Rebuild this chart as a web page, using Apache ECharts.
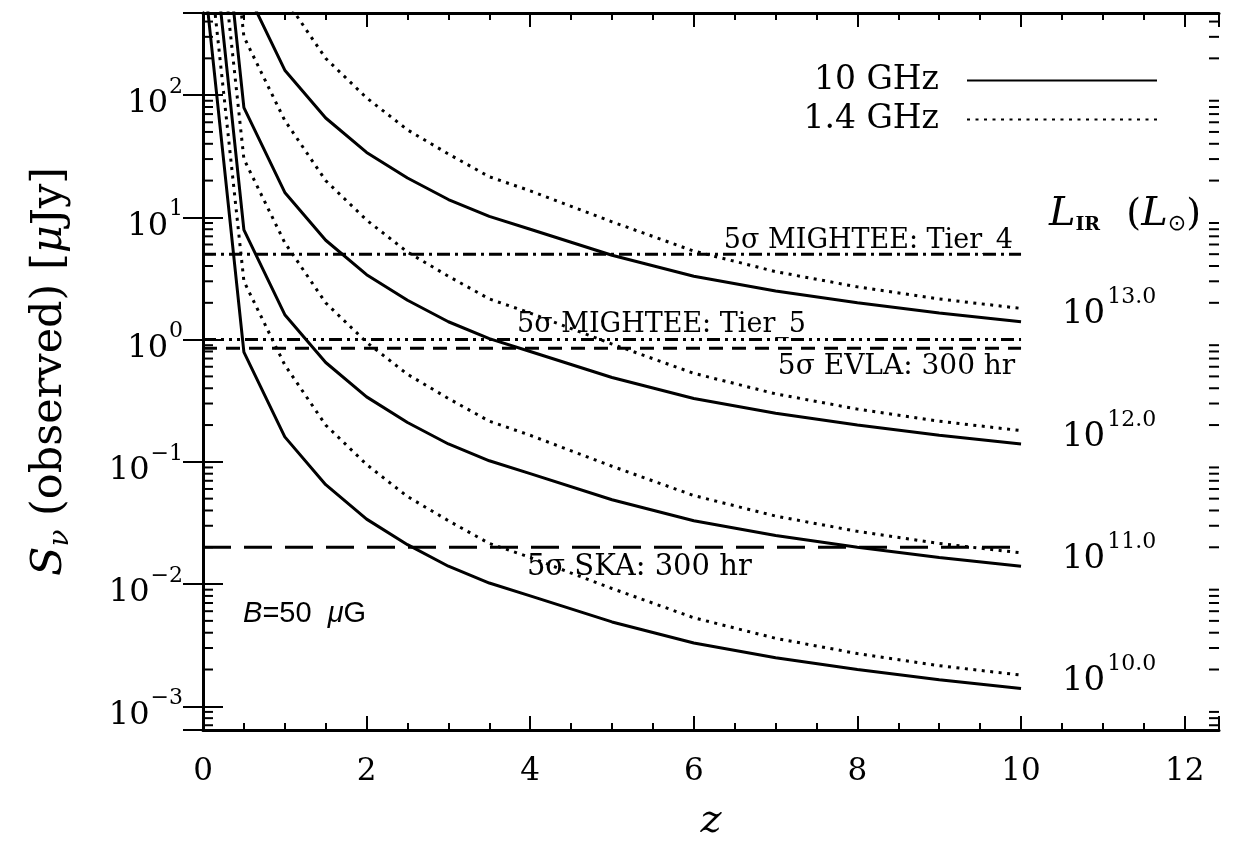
<!DOCTYPE html>
<html><head><meta charset="utf-8">
<script src="https://cdn.jsdelivr.net/npm/echarts@6/dist/echarts.min.js"></script>
<style>html,body{margin:0;padding:0;background:#fff}#c{width:1234px;height:852px}</style>
</head><body><div id="c"></div>
<script>
// ---- data ----
const zGrid = [0.05, 0.5, 1, 1.5, 2, 2.5, 3, 3.5, 4, 5, 6, 7, 8, 9, 10];
// 10 GHz (solid), flux in microJy
const s10_L13 = [5.6e5, 790, 160, 65, 34, 21, 14, 10.2, 8.0, 4.9, 3.3, 2.5, 2.0, 1.65, 1.4];
const s10_L12 = [5.6e4, 79, 16, 6.5, 3.4, 2.1, 1.4, 1.02, 0.80, 0.49, 0.33, 0.25, 0.20, 0.165, 0.14];
const s10_L11 = [5.6e3, 7.9, 1.6, 0.65, 0.34, 0.21, 0.14, 0.102, 0.080, 0.049, 0.033, 0.025, 0.020, 0.0165, 0.014];
const s10_L10 = [560, 0.79, 0.16, 0.065, 0.034, 0.021, 0.014, 0.0102, 0.0080, 0.0049, 0.0033, 0.0025, 0.0020, 0.00165, 0.0014];
// 1.4 GHz (dotted)
const s14_L13 = [1.9e6, 3000, 620, 200, 95, 52, 33, 21.5, 16.5, 9.2, 5.3, 3.6, 2.7, 2.15, 1.8];
const s14_L12 = [1.9e5, 300, 62, 20, 9.5, 5.2, 3.3, 2.15, 1.65, 0.92, 0.53, 0.36, 0.27, 0.215, 0.18];
const s14_L11 = [1.9e4, 30, 6.2, 2.0, 0.95, 0.52, 0.33, 0.215, 0.165, 0.092, 0.053, 0.036, 0.027, 0.0215, 0.018];
const s14_L10 = [1.9e3, 3.0, 0.62, 0.20, 0.095, 0.052, 0.033, 0.0215, 0.0165, 0.0092, 0.0053, 0.0036, 0.0027, 0.00215, 0.0018];
// 5-sigma detection limits (microJy)
const limitNames = ['5σ MIGHTEE: Tier_4', '5σ MIGHTEE: Tier_5', '5σ EVLA: 300 hr', '5σ SKA: 300 hr'];
const limitValues = [5.0, 1.0, 0.85, 0.02];
const limitZRange = [0, 10];
// luminosity labels
const lumLabels = ['13.0', '12.0', '11.0', '10.0'];
const lumLabelFlux = [1.6, 0.16, 0.016, 0.0016];
// axis ticks
const xTickLabels = [0, 2, 4, 6, 8, 10, 12];
const minorMantissas = [2, 3, 4, 5, 6, 7, 8, 9];
const minorDecades = [-4, -3, -2, -1, 0, 1, 2];

// ---- layout ----
const X_MIN = 0, X_MAX = 12.42, Y_MIN = 6.4e-4, Y_MAX = 470;
const SERIF = 'DejaVu Serif';
const BLACK = '#000';
const CLEAR = 'rgba(0,0,0,0)';

const yMinor = [];
minorDecades.forEach(d => minorMantissas.forEach(m => {
  const v = m * Math.pow(10, d);
  if (v > Y_MIN && v < Y_MAX) yMinor.push([X_MIN, v]);
}));

function curve(arr) { return zGrid.map((z, i) => [z, arr[i]]); }
function solidSeries(arr) {
  return { name: '10 GHz', type: 'line', data: curve(arr), symbol: 'none', silent: true, clip: true,
    itemStyle: { color: CLEAR }, lineStyle: { color: BLACK, width: 3, type: 'solid' }, z: 3 };
}
function dottedSeries(arr) {
  return { name: '1.4 GHz', type: 'line', data: curve(arr), symbol: 'none', silent: true, clip: true,
    itemStyle: { color: CLEAR }, lineStyle: { color: BLACK, width: 3, type: [3, 5.5] }, z: 3 };
}
const limitDash = [[13, 5, 3, 5], [13, 5, 3, 5, 3, 5, 3, 5], [14, 9], [28, 13]];
function limitSeries(i) {
  return { name: 'lim' + i, type: 'line', symbol: 'none', silent: true,
    data: [[limitZRange[0], limitValues[i]], [limitZRange[1], limitValues[i]]],
    lineStyle: { color: BLACK, width: 3, type: limitDash[i] }, z: 2 };
}

function ann(value, text, align, extra) {
  return { value: value, label: Object.assign({ show: true, formatter: text, position: [0, 0], align: align,
    verticalAlign: 'middle', color: BLACK, opacity: 1, fontFamily: SERIF, fontSize: 26 }, extra || {}) };
}
const annData = [
  ann([9.9, 6.4], limitNames[0], 'right', { fontSize: 27 }),
  ann([3.84, 1.31], limitNames[1], 'left', { fontSize: 27 }),
  ann([9.93, 0.6], limitNames[2], 'right', { fontSize: 28 }),
  ann([3.96, 0.0137], limitNames[3], 'left', { fontSize: 29 }),
  ann([0.49, 0.0057], '{i|B}=50  {i|μ}G', 'left', { fontFamily: 'Liberation Sans', fontSize: 29,
    rich: { i: { fontFamily: 'Liberation Sans', fontSize: 29, fontStyle: 'italic', color: BLACK } } }),
  ann([12.2, 10.5], '{L|L}{sub|IR}  ({L|L}{sunsub|⊙})', 'right', { fontSize: 38,
    rich: { L: { fontFamily: SERIF, fontStyle: 'italic', fontSize: 40, color: BLACK },
            sub: { fontFamily: SERIF, fontWeight: 'bold', fontSize: 19, padding: [20, 2, 0, 0], color: BLACK },
            sunsub: { fontFamily: 'DejaVu Sans', fontSize: 22, padding: [20, 0, 0, 0], color: BLACK } } })
];
lumLabels.forEach((t, i) => annData.push(ann([10.5, lumLabelFlux[i]], '{b|10}{sup|' + t + '}', 'left', {
  fontSize: 33, rich: { b: { fontFamily: SERIF, fontSize: 34, color: BLACK },
                        sup: { fontFamily: SERIF, fontSize: 22, padding: [0, 0, 34, 2], color: BLACK } } })));

const tickStyle = { color: BLACK, width: 2 };
function xAx(pos, labels) {
  return { type: 'value', min: X_MIN, max: X_MAX, interval: 2, position: pos,
    axisLine: { show: true, onZero: false, lineStyle: { color: BLACK, width: 3 } },
    axisTick: { show: true, inside: true, length: 14, lineStyle: tickStyle },
    minorTick: { show: true, splitNumber: 4, length: 7, lineStyle: tickStyle },
    splitLine: { show: false }, minorSplitLine: { show: false },
    axisLabel: { show: labels, margin: 26, fontSize: 31, fontFamily: SERIF, color: BLACK,
      formatter: v => (xTickLabels.some(t => Math.abs(t - v) < 1e-9) ? String(Math.round(v)) : '') },
    name: labels ? 'z' : '', nameLocation: 'middle', nameGap: 72,
    nameTextStyle: { fontSize: 40, fontStyle: 'italic', fontFamily: SERIF, color: BLACK } };
}
function yAx(pos, labels) {
  return { type: 'log', logBase: 10, min: Y_MIN, max: Y_MAX, position: pos,
    axisLine: { show: true, lineStyle: { color: BLACK, width: 3 } },
    axisTick: { show: true, inside: true, length: 20, lineStyle: tickStyle },
    splitLine: { show: false },
    axisLabel: { show: labels, margin: 20, fontSize: 31, fontFamily: SERIF, color: BLACK,
      formatter: v => {
        const e = Math.log10(v), r = Math.round(e);
        if (Math.abs(e - r) > 1e-6) return '';
        return '{b|10}{sup|' + (r < 0 ? '−' + (-r) : r) + '}';
      },
      rich: { b: { fontFamily: SERIF, fontSize: 32, padding: [18, 0, 0, 0], color: BLACK },
              sup: { fontFamily: SERIF, fontSize: 22, padding: [0, 0, 16, 1], color: BLACK } } },
    name: labels ? '{i|S}{sub|ν} (observed) [{i|μ}Jy]' : '', nameLocation: 'middle', nameRotate: 90, nameGap: 128,
    nameTextStyle: { fontSize: 43, fontFamily: SERIF, color: BLACK,
      rich: { i: { fontSize: 43, fontFamily: SERIF, fontStyle: 'italic', color: BLACK },
              sub: { fontSize: 28, fontFamily: SERIF, fontStyle: 'italic', padding: [22, 0, 0, 0], color: BLACK } } } };
}

const chart = echarts.init(document.getElementById('c'), null, { renderer: 'canvas' });
chart.setOption({
  animation: false,
  backgroundColor: '#fff',
  grid: { left: 203, right: 15, top: 13, bottom: 122, containLabel: false },
  xAxis: [xAx('bottom', true), xAx('top', false)],
  yAxis: [yAx('left', true), yAx('right', false)],
  legend: {
    data: ['10 GHz', '1.4 GHz'], orient: 'vertical', right: 76, top: 64, padding: 0,
    align: 'right', itemWidth: 190, itemHeight: 12, itemGap: 6, selectedMode: false,
    itemStyle: { color: CLEAR, borderWidth: 0, opacity: 0 },
    formatter: n => '{t|' + n + '}',
    textStyle: { color: BLACK, fontFamily: SERIF, fontSize: 33,
      rich: { t: { fontFamily: SERIF, fontSize: 33, color: BLACK, lineHeight: 40, padding: [0, 23, 0, 0] } } }
  },
  series: [
    solidSeries(s10_L13), solidSeries(s10_L12), solidSeries(s10_L11), solidSeries(s10_L10),
    dottedSeries(s14_L13), dottedSeries(s14_L12), dottedSeries(s14_L11), dottedSeries(s14_L10),
    limitSeries(0), limitSeries(1), limitSeries(2), limitSeries(3),
    { name: 'yminor', type: 'custom', silent: true, clip: false, data: yMinor, z: 4,
      renderItem: (params, api) => {
        const v = api.value(1);
        const pl = api.coord([X_MIN, v]), pr = api.coord([X_MAX, v]);
        return { type: 'group', children: [
          { type: 'line', shape: { x1: pl[0], y1: pl[1], x2: pl[0] + 10, y2: pl[1] }, style: { stroke: BLACK, lineWidth: 2 } },
          { type: 'line', shape: { x1: pr[0], y1: pr[1], x2: pr[0] - 10, y2: pr[1] }, style: { stroke: BLACK, lineWidth: 2 } }
        ] };
      } },
    { name: 'annotations', type: 'scatter', silent: true, symbolSize: 0.1, itemStyle: { color: CLEAR, opacity: 1 },
      data: annData, z: 6 }
  ]
});
</script></body></html>
